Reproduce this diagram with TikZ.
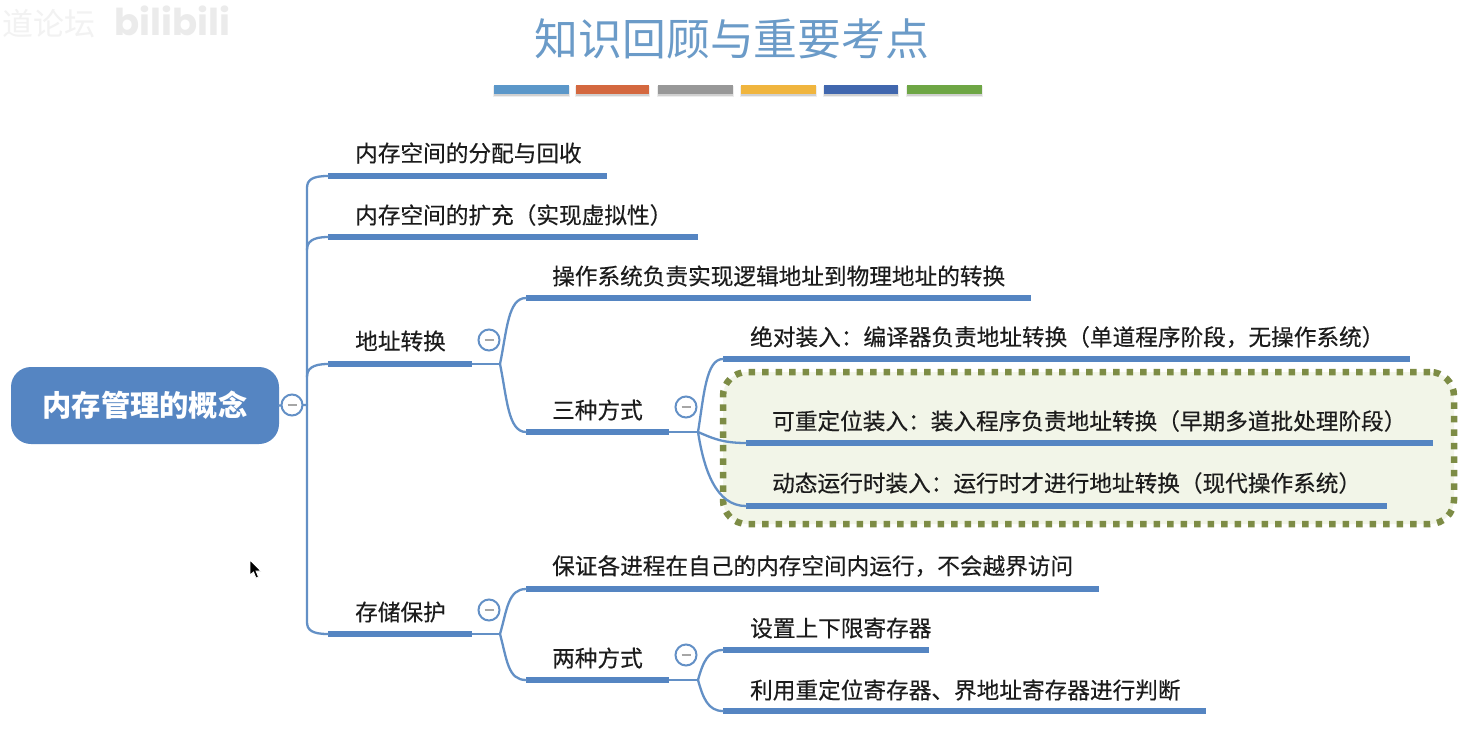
\documentclass[tikz,border=0pt]{standalone}
\usepackage{fontspec}
\setmainfont{Noto Sans CJK SC}
\newfontfamily\wmfont{Poppins}
\newfontfamily\topicfont[FakeBold=0.35]{Noto Sans CJK SC}
\usetikzlibrary{calc}
\definecolor{mmblue}{HTML}{5585C2}
\definecolor{mmline}{HTML}{6390C6}
\definecolor{mmtitle}{HTML}{6B9BC8}
\definecolor{mmtext}{HTML}{1C1C1C}
\definecolor{boxfill}{HTML}{F2F5E8}
\definecolor{boxdot}{HTML}{7D8C45}
\definecolor{tb1}{HTML}{5B97C9}\definecolor{tb2}{HTML}{D4683F}\definecolor{tb3}{HTML}{989898}
\definecolor{tb4}{HTML}{F0B53E}\definecolor{tb5}{HTML}{4167AE}\definecolor{tb6}{HTML}{6EA645}
\tikzset{
  x=1pt,y=-1pt,
  barnode/.style={fill=mmblue,draw=none,inner sep=0pt,minimum height=6pt,anchor=west},
  topic/.style={anchor=west,inner sep=0pt,text=mmtext,font=\topicfont\fontsize{22.65}{27}\selectfont},
  link/.style={draw=mmline,line width=2.3pt,line cap=round},
  toggle/.style={circle,draw=mmline,line width=2pt,fill=white,minimum size=21pt,inner sep=0pt,outer sep=0pt},
  titlebar/.style={inner sep=0pt,minimum height=9pt,minimum width=#1,anchor=west},
}
\newcommand{\mmitem}[7]{%
  \node[barnode,minimum width=#3pt] (#1) at (#2,#4) {};
  \node[topic] (#1t) at (#6,#7) {#5};
}
\newcommand{\mmtoggle}[3]{%
  \node[toggle] (#1) at (#2,#3) {};
  \draw[draw=gray!70,line width=1.6pt] ($(#1)+(-4.5,0)$) -- ($(#1)+(4.5,0)$);
}
\newcommand{\mmtbar}[4]{%
  \fill[black,opacity=.07] (#2-1,84+2) rectangle (#2+#3+1,84+13);
  \fill[black,opacity=.12] (#2,84+3) rectangle (#2+#3,84+12);
  \node[titlebar=#3pt,fill=#4] (#1) at (#2,89.5) {};
}
\begin{document}
\begin{tikzpicture}
\useasboundingbox (0,0) rectangle (1479,747);
\fill[white] (0,0) rectangle (1479,747);

% faint watermark
\node[anchor=west,inner sep=0pt,text=black!5,font=\fontsize{31}{36}\selectfont] (wm1) at (2,24) {道论坛};
\node[anchor=west,inner sep=0pt,text=black!8,font=\wmfont\bfseries\fontsize{37}{40}\selectfont] (wm2) at (114,21) {bilibili};

% title
\node[inner sep=0pt,text=mmtitle,font=\fontsize{43.8}{50}\selectfont] (title) at (732,39) {知识回顾与重要考点};
\mmtbar{t1}{494}{75}{tb1}
\mmtbar{t2}{576}{73}{tb2}
\mmtbar{t3}{658}{75}{tb3}
\mmtbar{t4}{741}{75}{tb4}
\mmtbar{t5}{824}{74}{tb5}
\mmtbar{t6}{907}{75}{tb6}

% highlight box
\node[draw=boxdot,fill=boxfill,line width=6.5pt,dash pattern=on 6.5pt off 7pt,rounded corners=24pt,
  minimum width=731pt,minimum height=152pt,inner sep=0pt,outer sep=0pt,anchor=north west] (hl) at (723,372) {};

% root
\node[fill=mmblue,rounded corners=20pt,minimum width=268pt,minimum height=77pt,inner sep=0pt,
  text=white,font=\bfseries\fontsize{29.3}{34}\selectfont] (root) at (145,405.5) {\raisebox{-1.5pt}{内存管理的概念}};

% items
\mmitem{a1}{328}{279}{176}{内存空间的分配与回收}{355}{153}
\mmitem{a2}{328}{370}{237}{内存空间的扩充（实现虚拟性）}{355}{215}
\mmitem{a3}{328}{144}{364}{地址转换}{355}{341}
\mmitem{a4}{328}{144}{634}{存储保护}{355}{612}
\mmitem{b1}{526}{505}{298}{操作系统负责实现逻辑地址到物理地址的转换}{552}{276}
\mmitem{b2}{526}{143}{432}{三种方式}{552}{410}
\mmitem{b3}{526}{573}{589}{保证各进程在自己的内存空间内运行，不会越界访问}{552}{566}
\mmitem{b4}{526}{143}{680}{两种方式}{552}{658}
\mmitem{c1}{723}{687}{359}{绝对装入：编译器负责地址转换（单道程序阶段，无操作系统）}{750}{337}
\mmitem{c2}{746}{687}{443}{可重定位装入：装入程序负责地址转换（早期多道批处理阶段）}{772}{421}
\mmitem{c3}{746}{641}{506}{动态运行时装入：运行时才进行地址转换（现代操作系统）}{772}{483}
\mmitem{d1}{723}{206}{650}{设置上下限寄存器}{750}{628}
\mmitem{d2}{723}{483}{711}{利用重定位寄存器、界地址寄存器进行判断}{750}{690}

% hubs
\coordinate (h0) at (307,405);
\coordinate (h1) at (500,364);
\coordinate (h2) at (698,432);
\coordinate (h3) at (500,634);
\coordinate (h4) at (698,680);

% connectors
\draw[link] (root.east) -- (h0);
\draw[link] (h0) -- (307,188) .. controls (307,180) and (312,176) .. (a1.west);
\draw[link] (307,250) .. controls (307,242) and (312,237) .. (a2.west);
\draw[link] (307,377) .. controls (307,369) and (312,364) .. (a3.west);
\draw[link] (h0) -- (307,622) .. controls (307,630) and (312,634) .. (a4.west);
\draw[link] (a3.east) -- (h1);
\draw[link] (h1) .. controls (507,330) and (508,298) .. (b1.west);
\draw[link] (h1) .. controls (507,398) and (508,432) .. (b2.west);
\draw[link] (a4.east) -- (h3);
\draw[link] (h3) .. controls (507,610) and (508,589) .. (b3.west);
\draw[link] (h3) .. controls (507,660) and (508,680) .. (b4.west);
\draw[link] (b2.east) -- (h2);
\draw[link] (h2) .. controls (704,395) and (706,359) .. (c1.west);
\draw[link] (h2) .. controls (712,438) and (722,443) .. (c2.west);
\draw[link] (h2) .. controls (704,470) and (716,506) .. (c3.west);
\draw[link] (b4.east) -- (h4);
\draw[link] (h4) .. controls (703,662) and (708,650) .. (d1.west);
\draw[link] (h4) .. controls (703,698) and (708,711) .. (d2.west);

% toggles
\mmtoggle{g0}{292}{405}
\mmtoggle{g1}{489}{340}
\mmtoggle{g2}{686}{407}
\mmtoggle{g3}{489}{610}
\mmtoggle{g4}{686}{655}

% mouse cursor
\draw[fill=black,draw=white,line width=.8pt] (250,560) -- (250,575) -- (253.5,572) -- (256,578) -- (258.5,577) -- (256,571) -- (261,571) -- cycle;
\end{tikzpicture}
\end{document}
